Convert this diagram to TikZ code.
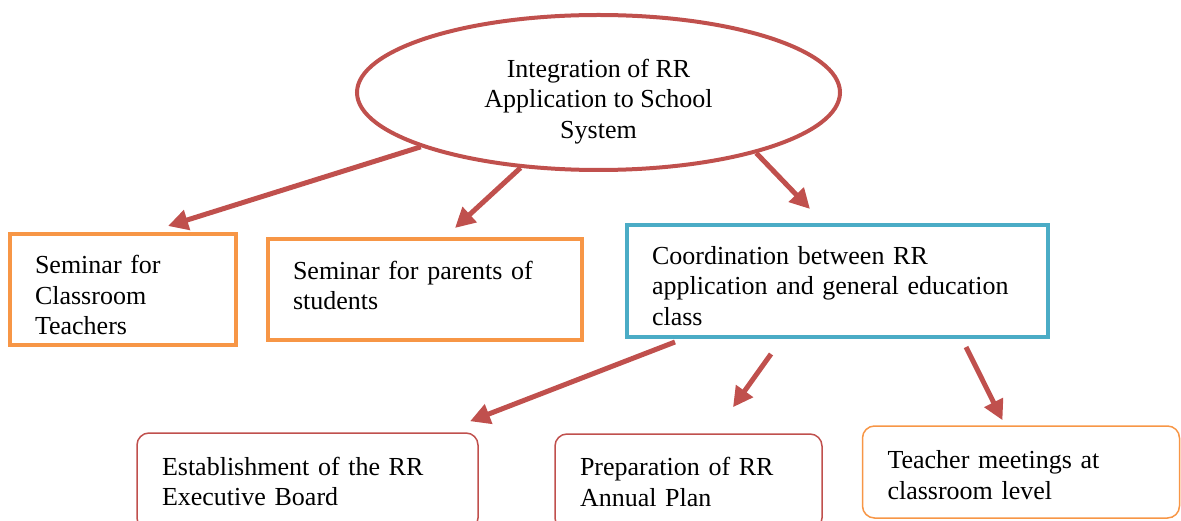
\documentclass[tikz,border=0pt]{standalone}
\usepackage{fontspec}
\setmainfont{Liberation Serif}
\usetikzlibrary{shapes.geometric,arrows.meta}
\definecolor{rrred}{HTML}{C0504D}
\definecolor{rrorange}{HTML}{F79646}
\definecolor{rrblue}{HTML}{4BACC6}

\begin{document}
\begin{tikzpicture}[x=1pt,y=-1pt,
  every node/.style={font=\fontsize{26}{30.5}\selectfont},
  topic/.style={ellipse,draw=rrred,line width=4pt,minimum width=483pt,minimum height=155pt,align=center,inner sep=0pt},
  sqbox/.style={rectangle,line width=4pt,align=left,inner xsep=25pt,inner ysep=0pt},
  rdbox/.style={rectangle,rounded corners=12pt,line width=1.5pt,align=left,inner xsep=25pt,inner ysep=0pt},
  link/.style={draw=rrred,line width=5pt,-{Triangle[length=20pt,width=20pt]}}]
\useasboundingbox (0,0) rectangle (1181,521);
\clip (0,0) rectangle (1181,521);
%% nodes
\node[topic] (top) at (598.5,92.5) {\rule{0pt}{36pt}Integration of RR\\Application to School\\System};
\node[sqbox,draw=rrorange,text width=176pt,minimum height=111pt] (semA) at (123,289.5) {\rule{0pt}{30pt}Seminar for\\Classroom\\Teachers};
\node[sqbox,draw=rrorange,text width=264pt,minimum height=101pt] (semB) at (425,289.5) {Seminar for parents of\\students\rule[-8pt]{0pt}{0pt}};
\node[sqbox,draw=rrblue,text width=371pt,minimum height=112pt] (coord) at (837.5,281) {\rule{0pt}{28pt}Coordination between RR\\application and general education\\class};
\node[rdbox,draw=rrred,text width=291pt,minimum height=97pt] (board) at (307.5,481.5) {Establishment of the RR\\Executive Board};
\node[rdbox,draw=rrred,text width=217pt,minimum height=96pt] (plan) at (688.5,482) {Preparation of RR\\Annual Plan};
\node[rdbox,draw=rrorange,text width=267pt,minimum height=92pt] (meet) at (1021,472) {\rule{0pt}{24pt}Teacher meetings at\\classroom level};
%%% edges
\draw[link] (top.197) -- ([xshift=45pt,yshift=6pt]semA.north);
\draw[link] (top.224) -- ([xshift=30pt,yshift=9pt]semB.north);
\draw[link] (top.339) -- ([xshift=-27.5pt,yshift=14pt]coord.north);
\draw[link] ([xshift=-162.5pt,yshift=-3pt]coord.south) -- ([xshift=162.5pt,yshift=11pt]board.north);
\draw[link] ([xshift=-66.5pt,yshift=-15pt]coord.south) -- ([xshift=44.5pt,yshift=26pt]plan.north);
\draw[link] ([xshift=128.5pt,yshift=-8pt]coord.south) -- ([xshift=-18.5pt,yshift=5pt]meet.north);
\end{tikzpicture}
\end{document}
